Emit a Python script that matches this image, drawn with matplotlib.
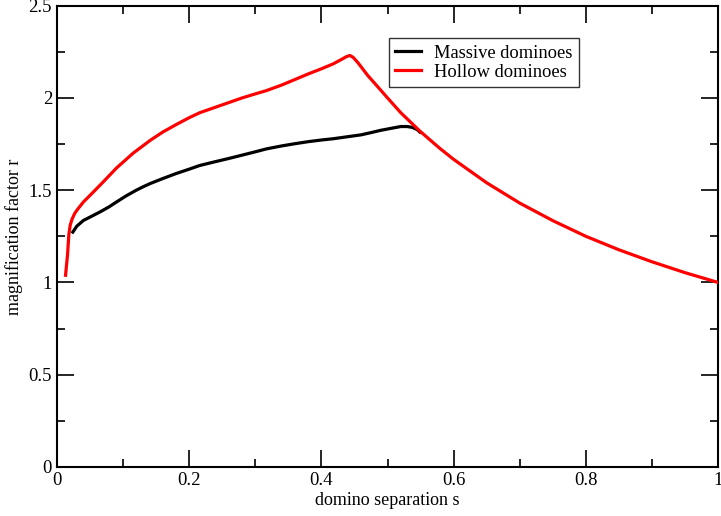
import matplotlib

matplotlib.use("Agg")
import matplotlib.pyplot as plt
from matplotlib.ticker import MultipleLocator

plt.rcParams["font.family"] = ["Liberation Serif", "DejaVu Serif"]

# massive dominoes
massive_s = [0.024, 0.030, 0.040, 0.052, 0.065, 0.078, 0.090, 0.105, 0.120, 0.130,
             0.141, 0.160, 0.180, 0.200, 0.216, 0.240, 0.260, 0.280, 0.300, 0.317,
             0.340, 0.360, 0.380, 0.400, 0.418, 0.440, 0.460, 0.475, 0.489, 0.505,
             0.520, 0.530, 0.538, 0.545, 0.549]
massive_r = [1.273, 1.305, 1.336, 1.358, 1.382, 1.408, 1.436, 1.470, 1.500, 1.518,
             1.536, 1.563, 1.590, 1.614, 1.634, 1.655, 1.672, 1.690, 1.708, 1.724,
             1.740, 1.752, 1.763, 1.772, 1.779, 1.790, 1.800, 1.812, 1.824, 1.835,
             1.845, 1.845, 1.840, 1.828, 1.815]

# hollow dominoes
hollow_s = [0.013, 0.016, 0.018, 0.020, 0.023, 0.027, 0.032, 0.040, 0.055, 0.070,
            0.090, 0.115, 0.141, 0.160, 0.180, 0.200, 0.216, 0.240, 0.260, 0.280,
            0.300, 0.317, 0.340, 0.360, 0.380, 0.400, 0.418, 0.430, 0.438, 0.443,
            0.448, 0.455, 0.470, 0.489, 0.500, 0.520, 0.549, 0.579, 0.600, 0.650,
            0.700, 0.750, 0.800, 0.850, 0.900, 0.950, 1.000]
hollow_r = [1.039, 1.150, 1.260, 1.310, 1.345, 1.375, 1.400, 1.436, 1.490, 1.545,
            1.620, 1.700, 1.770, 1.815, 1.855, 1.893, 1.920, 1.950, 1.975, 2.000,
            2.022, 2.040, 2.070, 2.100, 2.130, 2.158, 2.185, 2.208, 2.224, 2.230,
            2.220, 2.192, 2.122, 2.045, 2.000, 1.920, 1.820, 1.727, 1.667, 1.540,
            1.430, 1.335, 1.250, 1.177, 1.112, 1.053, 1.000]

x_ticks = [0, 0.2, 0.4, 0.6, 0.8, 1]
x_labels = ["0", "0.2", "0.4", "0.6", "0.8", "1"]
y_ticks = [0, 0.5, 1, 1.5, 2, 2.5]
y_labels = ["0", "0.5", "1", "1.5", "2", "2.5"]

fig, ax = plt.subplots(figsize=(7.21, 5.16), dpi=100)
fig.subplots_adjust(left=0.079, right=0.996, top=0.989, bottom=0.095)

ax.plot(massive_s, massive_r, color="black", lw=2.3, label="Massive dominoes", zorder=3)
ax.plot(hollow_s, hollow_r, color="#ff0000", lw=2.3, label="Hollow dominoes", zorder=4)

ax.set_xlim(0, 1)
ax.set_ylim(0, 2.5)
ax.set_xticks(x_ticks)
ax.set_xticklabels(x_labels)
ax.set_yticks(y_ticks)
ax.set_yticklabels(y_labels)
ax.xaxis.set_minor_locator(MultipleLocator(0.1))
ax.yaxis.set_minor_locator(MultipleLocator(0.25))
ax.tick_params(which="both", direction="in", top=True, right=True, labelsize=13.5, width=1.2)
ax.tick_params(which="major", length=12)
ax.tick_params(which="minor", length=6)
for spine in ax.spines.values():
    spine.set_linewidth(1.5)

ax.set_xlabel("domino separation s", fontsize=13, labelpad=2)
ax.set_ylabel("magnification factor r", fontsize=13, labelpad=4)

leg = ax.legend(loc="upper left", bbox_to_anchor=(0.502, 0.929), fontsize=13.3,
                frameon=True, fancybox=False, edgecolor="black", handlelength=1.4,
                handletextpad=0.7, borderpad=0.35, labelspacing=0.1, borderaxespad=0)
leg.get_frame().set_linewidth(1.0)

fig.savefig("out.png", dpi=100)
